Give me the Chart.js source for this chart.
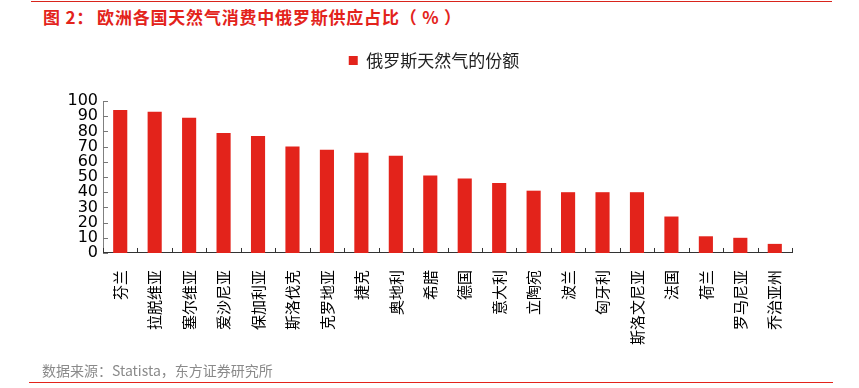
<!DOCTYPE html>
<html>
<head>
<meta charset="utf-8">
<script src="https://cdn.jsdelivr.net/npm/chart.js@4.4.1/dist/chart.umd.min.js"></script>
<style>
    html, body { margin: 0; padding: 0; background: #fff; }
    #wrap { position: relative; width: 859px; height: 388px; overflow: hidden; }
    #chart { position: absolute; left: 0; top: 0; }
    .topLine { position: absolute; left: 31px; top: 1px; width: 801px; height: 1px; background: #d9241c; }
    .title { position: absolute; left: 43px; top: 4px; font-family: "Noto Sans CJK SC"; font-weight: bold; font-size: 17px; letter-spacing: 0.8px; color: #e3231b; white-space: nowrap; }
    .title .gap { margin-left: 3px; }
    .source { position: absolute; left: 42px; top: 360px; font-family: "Noto Sans CJK SC"; font-size: 14px; color: #8a8a8a; white-space: nowrap; }
    .bottomLine { position: absolute; left: 29px; top: 382px; width: 804px; height: 1px; background: #e3231b; }
</style>
</head>
<body>
<div id="wrap">
    <div class="topLine"></div>
    <div class="title">图 2：<span class="gap">欧洲各国天然气消费中俄罗斯供应占比（ % ）</span></div>
    <canvas id="chart" width="859" height="388"></canvas>
    <div class="source">数据来源：Statista，东方证券研究所</div>
    <div class="bottomLine"></div>
</div>
<script>
// Chart data
const countries = ['芬兰', '拉脱维亚', '塞尔维亚', '爱沙尼亚', '保加利亚', '斯洛伐克', '克罗地亚', '捷克', '奥地利', '希腊',
    '德国', '意大利', '立陶宛', '波兰', '匈牙利', '斯洛文尼亚', '法国', '荷兰', '罗马尼亚', '乔治亚州'];
const russianShare = [94, 93, 89, 79, 77, 70, 68, 66, 64, 51, 49, 46, 41, 40, 40, 40, 24, 11, 10, 6];
const seriesName = '俄罗斯天然气的份额';
const yMin = 0;
const yMax = 100;
const yStep = 10;

// small tick marks drawn inside the plot area
const innerTicks = {
    id: 'innerTicks',
    afterDraw(chart) {
        const ctx = chart.ctx;
        const xs = chart.scales.x;
        const ys = chart.scales.y;
        const bottom = ys.getPixelForValue(yMin);
        ctx.save();
        ctx.lineWidth = 1;
        ctx.strokeStyle = '#333';
        ctx.beginPath();
        for (let i = 0; i <= countries.length; i++) {
            const px = Math.round(xs.getPixelForValue(i - 0.5)) + 0.5;
            ctx.moveTo(px, bottom);
            ctx.lineTo(px, bottom - 5);
        }
        ctx.stroke();
        ctx.strokeStyle = '#777';
        ctx.beginPath();
        ys.ticks.forEach(t => {
            const py = Math.round(ys.getPixelForValue(t.value)) + 0.5;
            ctx.moveTo(ys.right, py);
            ctx.lineTo(ys.right + 5, py);
        });
        ctx.stroke();
        ctx.restore();
    }
};

// extra space under the legend, and nudge it a bit to the right
const legendGap = {
    id: 'legendGap',
    beforeInit(chart) {
        const fit = chart.legend.fit;
        chart.legend.fit = function() {
            fit.bind(chart.legend)();
            this.height += 22;
        };
    },
    afterLayout(chart) {
        chart.legend.left += 9;
        chart.legend.right += 9;
    }
};

const ctx = document.getElementById('chart').getContext('2d');
new Chart(ctx, {
    type: 'bar',
    data: {
        labels: countries,
        datasets: [{
            label: seriesName,
            data: russianShare,
            backgroundColor: '#e3231b',
            borderWidth: 0,
            categoryPercentage: 1,
            barPercentage: 0.41
        }]
    },
    options: {
        responsive: false,
        animation: false,
        layout: {
            padding: { left: 58, right: 67, top: 42, bottom: 26 }
        },
        plugins: {
            tooltip: { enabled: false },
            legend: {
                display: true,
                position: 'top',
                labels: {
                    boxWidth: 9,
                    boxHeight: 9,
                    padding: 10,
                    color: '#222',
                    font: { family: 'Noto Sans CJK SC', size: 17 }
                }
            }
        },
        scales: {
            x: {
                grid: { display: false, drawTicks: false },
                border: { display: true, color: '#333', width: 1 },
                ticks: {
                    autoSkip: false,
                    maxRotation: 90,
                    minRotation: 90,
                    padding: 17,
                    color: '#000',
                    font: { family: 'Noto Sans CJK SC', size: 15 }
                }
            },
            y: {
                min: yMin,
                max: yMax,
                afterFit(scale) { scale.width = 45; },
                grid: { display: false, drawTicks: false },
                border: { display: true, color: '#808080', width: 1 },
                ticks: {
                    autoSkip: false,
                    stepSize: yStep,
                    padding: 5,
                    color: '#000',
                    font: { family: 'DejaVu Sans', size: 16 }
                }
            }
        }
    },
    plugins: [innerTicks, legendGap]
});
</script>
</body>
</html>
